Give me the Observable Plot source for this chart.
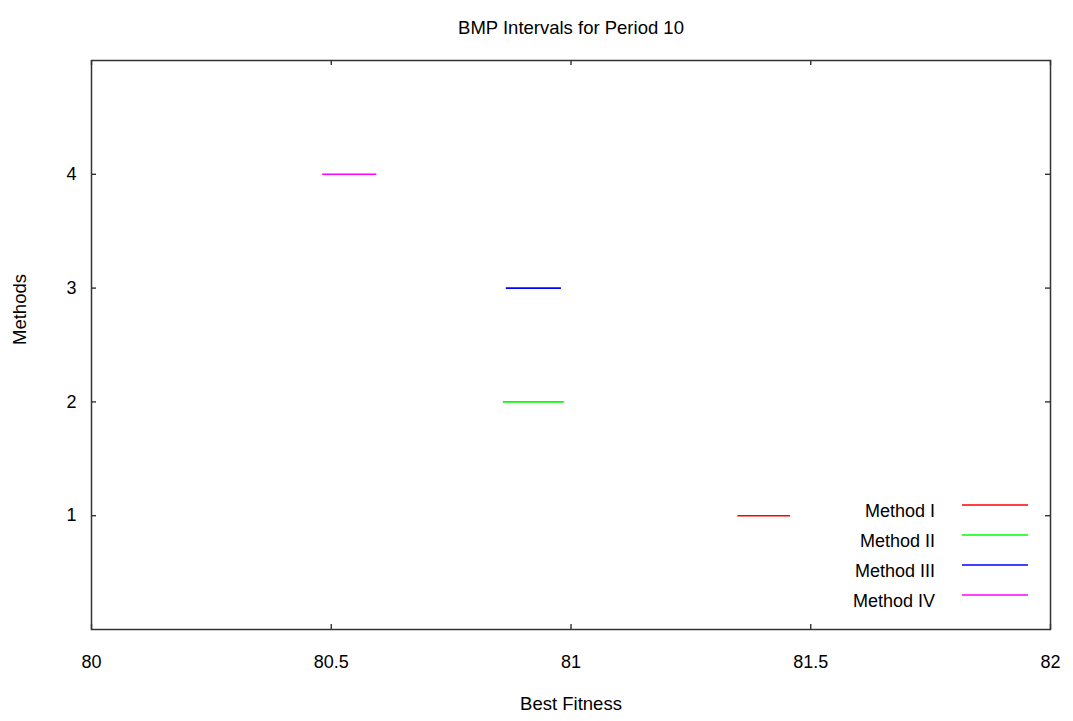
<!DOCTYPE html>
<html>
<head>
<meta charset="utf-8">
<script src="https://cdn.jsdelivr.net/npm/d3@7"></script>
<script src="https://cdn.jsdelivr.net/npm/@observablehq/plot@0.6"></script>
<style>
  html, body { margin: 0; padding: 0; background: #fff; }
</style>
</head>
<body>
<div id="chart"></div>
<script>
// ---- data ----
const methods = ["Method I", "Method II", "Method III", "Method IV"];
const methodY = [1, 2, 3, 4];
const lowVals = [81.347, 80.858, 80.864, 80.481];
const highVals = [81.457, 80.985, 80.979, 80.594];
const colors = ["#ff0000", "#00ff00", "#0000ff", "#ff00ff"];
const xTicks = [80, 80.5, 81, 81.5, 82];
const yTicks = [1, 2, 3, 4];
const titleText = "BMP Intervals for Period 10";
const xLabel = "Best Fitness";
const yLabel = "Methods";

const rows = methods.map((m, i) => ({method: m, y: methodY[i], lo: lowVals[i], hi: highVals[i], color: colors[i]}));

const W = 1073, H = 721;
const mL = 91, mR = 23, mT = 60, mB = 92;
const fh = H - mT - mB, fw = W - mL - mR;
const tk = 5;
const font = "Liberation Sans, Arial, sans-serif";

const plot = Plot.plot({
  width: W, height: H,
  marginLeft: mL, marginRight: mR, marginTop: mT, marginBottom: mB,
  style: {fontFamily: font, fontSize: "18px", color: "#000", background: "#fff"},
  x: {domain: [80, 82]},
  y: {domain: [0, 5]},
  marks: [
    Plot.axisX({ticks: xTicks, tickSize: 0, tickPadding: 26, tickFormat: d => String(d), label: null}),
    Plot.axisY({ticks: yTicks, tickSize: 0, tickPadding: 15, tickFormat: d => String(d), label: null}),
    // inward ticks (bottom, top, left, right)
    Plot.ruleX(xTicks, {x: d => d, y1: 5, y2: 0, insetTop: fh - tk, stroke: "#333", strokeWidth: 1.4}),
    Plot.ruleX(xTicks, {x: d => d, y1: 5, y2: 0, insetBottom: fh - tk, stroke: "#333", strokeWidth: 1.4}),
    Plot.ruleY(yTicks, {y: d => d, x1: 80, x2: 82, insetRight: fw - tk, stroke: "#333", strokeWidth: 1.4}),
    Plot.ruleY(yTicks, {y: d => d, x1: 80, x2: 82, insetLeft: fw - tk, stroke: "#333", strokeWidth: 1.4}),
    Plot.frame({stroke: "#333", strokeWidth: 1.5}),
    // intervals
    Plot.link(rows, {x1: "lo", x2: "hi", y1: "y", y2: "y", stroke: "color", strokeWidth: 1.6}),
    // title and axis labels
    Plot.text([titleText], {frameAnchor: "top", dy: -40, text: d => d, fontSize: 18.5, fill: "#000"}),
    Plot.text([xLabel], {frameAnchor: "bottom", dy: 80, text: d => d, fontSize: 18.5, fill: "#000"}),
    Plot.text([yLabel], {frameAnchor: "left", dx: -71, text: d => d, rotate: -90, fontSize: 18.5, fill: "#000"})
  ]
});

document.getElementById("chart").appendChild(plot);

// legend inside the frame (bottom-right)
const svg = d3.select(plot);
const lg = svg.append("g").attr("font-family", font).attr("font-size", 18);
rows.forEach((r, i) => {
  const ly = 505 + i * 30;
  lg.append("line").attr("x1", 962).attr("x2", 1028).attr("y1", ly).attr("y2", ly)
    .attr("stroke", r.color).attr("stroke-width", 1.5);
  lg.append("text").attr("x", 935).attr("y", ly + 12).attr("text-anchor", "end")
    .attr("fill", "#000").text(r.method);
});
</script>
</body>
</html>
